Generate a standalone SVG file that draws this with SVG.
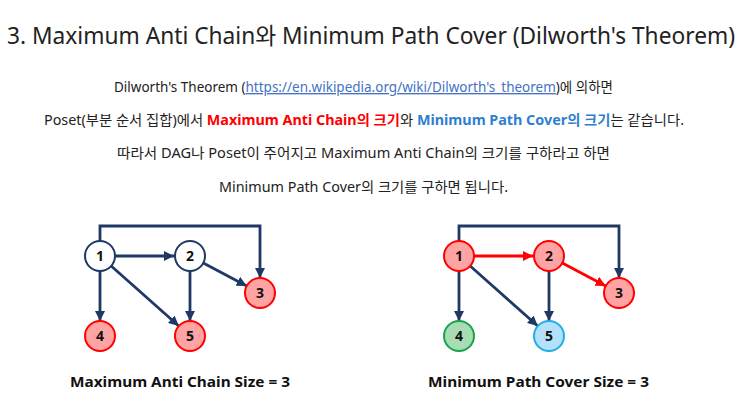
<svg xmlns="http://www.w3.org/2000/svg" width="743" height="418" viewBox="0 0 743 418">
<defs>
<style>
.t{font-family:"Noto Sans","Noto Sans CJK KR",sans-serif;fill:#222}
.p{font-size:13.5px;text-anchor:start}
.red{fill:#ff0000;font-weight:bold}
.blue{fill:#2e7fd0;font-weight:bold}
.link{fill:#4472c4;text-decoration:underline}
.lbl{font-family:"Noto Sans",sans-serif;font-size:15px;font-weight:bold;fill:#111}
.e{fill:none;stroke:#1f3864;stroke-width:2.8}
.er{fill:none;stroke:#ff0000;stroke-width:2.8}
.nw{fill:#ffffff;stroke:#1f3864;stroke-width:2}
.nr{fill:#ffa3a3;stroke:#ff0000;stroke-width:2}
.ng{fill:#a8dcb2;stroke:#16a34a;stroke-width:2}
.nb{fill:#b3e1fb;stroke:#20ace6;stroke-width:2}
.nt{font-family:"Noto Sans",sans-serif;font-size:14px;font-weight:bold;fill:#111;text-anchor:middle}
</style>
<marker id="a" viewBox="0 0 10 10" refX="10" refY="5" markerWidth="3.6" markerHeight="3.6" orient="auto"><path d="M0,0 L10,5 L0,10 z" fill="#1f3864"/></marker>
<marker id="ar" viewBox="0 0 10 10" refX="10" refY="5" markerWidth="3.6" markerHeight="3.6" orient="auto"><path d="M0,0 L10,5 L0,10 z" fill="#ff0000"/></marker>
</defs>
<rect width="743" height="418" fill="#ffffff"/>

<text class="t" x="7" y="44" font-size="23" textLength="728" lengthAdjust="spacingAndGlyphs">3. Maximum Anti Chain와 Minimum Path Cover (Dilworth's Theorem)</text>

<text class="t p" x="114" y="92" textLength="499" lengthAdjust="spacingAndGlyphs">Dilworth's Theorem (<tspan class="link">https://en.wikipedia.org/wiki/Dilworth's_theorem</tspan>)에 의하면</text>
<text class="t p" x="44" y="125" textLength="640" lengthAdjust="spacingAndGlyphs">Poset(부분 순서 집합)에서 <tspan class="red">Maximum Anti Chain의 크기</tspan>와 <tspan class="blue">Minimum Path Cover의 크기</tspan>는 같습니다.</text>
<text class="t p" x="117" y="158" textLength="493" lengthAdjust="spacingAndGlyphs">따라서 DAG나 Poset이 주어지고 Maximum Anti Chain의 크기를 구하라고 하면</text>
<text class="t p" x="219" y="191.5" textLength="289" lengthAdjust="spacingAndGlyphs">Minimum Path Cover의 크기를 구하면 됩니다.</text>

<g id="connectors">
<path class="e" d="M100,241 V226 H260 V278" marker-end="url(#a)"/>
<path class="e" d="M115,256 H174" marker-end="url(#a)"/>
<path class="e" d="M100,271 V321" marker-end="url(#a)"/>
<path class="e" d="M111.2,266 L178.8,326" marker-end="url(#a)"/>
<path class="e" d="M190,271 V321" marker-end="url(#a)"/>
<path class="e" d="M203.3,263 L246.7,286" marker-end="url(#a)"/>

<path class="e" d="M459,241 V226 H619 V278" marker-end="url(#a)"/>
<path class="er" d="M474,256 H533" marker-end="url(#ar)"/>
<path class="e" d="M459,271 V321" marker-end="url(#a)"/>
<path class="e" d="M470.2,266 L537.8,326" marker-end="url(#a)"/>
<path class="e" d="M549,271 V321" marker-end="url(#a)"/>
<path class="er" d="M562.3,263 L605.7,286" marker-end="url(#ar)"/>
</g>

<g id="L1"><circle class="nw" cx="100" cy="256" r="15"/><text class="nt" x="100" y="261">1</text></g>
<g id="L2"><circle class="nw" cx="190" cy="256" r="15"/><text class="nt" x="190" y="261">2</text></g>
<g id="L3"><circle class="nr" cx="260" cy="293" r="15"/><text class="nt" x="260" y="298">3</text></g>
<g id="L4"><circle class="nr" cx="100" cy="336" r="15"/><text class="nt" x="100" y="341">4</text></g>
<g id="L5"><circle class="nr" cx="190" cy="336" r="15"/><text class="nt" x="190" y="341">5</text></g>

<g id="R1"><circle class="nr" cx="459" cy="256" r="15"/><text class="nt" x="459" y="261">1</text></g>
<g id="R2"><circle class="nr" cx="549" cy="256" r="15"/><text class="nt" x="549" y="261">2</text></g>
<g id="R3"><circle class="nr" cx="619" cy="293" r="15"/><text class="nt" x="619" y="298">3</text></g>
<g id="R4"><circle class="ng" cx="459" cy="336" r="15"/><text class="nt" x="459" y="341">4</text></g>
<g id="R5"><circle class="nb" cx="549" cy="336" r="15"/><text class="nt" x="549" y="341">5</text></g>

<text class="lbl" x="70" y="387" textLength="220" lengthAdjust="spacingAndGlyphs">Maximum Anti Chain Size = 3</text>
<text class="lbl" x="428" y="387" textLength="221" lengthAdjust="spacingAndGlyphs">Minimum Path Cover Size = 3</text>
</svg>
